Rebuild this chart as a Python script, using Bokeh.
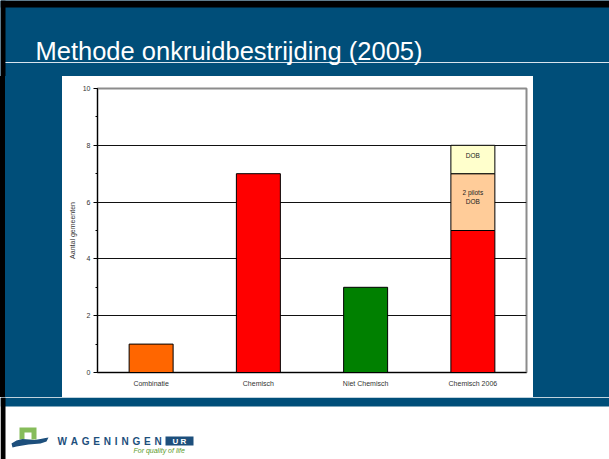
from bokeh.plotting import figure
from bokeh.layouts import column, row
from bokeh.models import Range1d, SingleIntervalTicker, ColumnDataSource, Label, Spacer
from bokeh.core.properties import value
from bokeh.embed import file_html
from bokeh.resources import INLINE

# ---------------- data ----------------
title_text = "Methode onkruidbestrijding (2005)"
categories = ["Combinatie", "Chemisch", "Niet Chemisch", "Chemisch 2006"]
base_values = [1, 7, 3, 5]
base_colors = ["#FF6600", "#FF0000", "#008000", "#FF0000"]
pilot_values = [0, 0, 0, 2]
dob_values = [0, 0, 0, 1]
pilot_label = "2 pilots\nDOB"
dob_label = "DOB"
y_label = "Aantal gemeenten"
y_max = 10

BLUE = "#004e79"
FONT = "Liberation Sans"
W = 609

def blank(w, h, fill):
    f = figure(width=w, height=h, x_range=Range1d(0, w), y_range=Range1d(0, h),
               toolbar_location=None, output_backend="svg", min_border=0)
    f.axis.visible = False
    f.grid.visible = False
    f.outline_line_color = None
    f.background_fill_color = fill
    f.border_fill_color = fill
    return f

# ---------------- header (page y 0..76) ----------------
header = blank(W, 76, BLUE)
header.quad(left=[0], right=[W], bottom=[69], top=[76], fill_color="black", line_color=None)
header.quad(left=[0], right=[5], bottom=[0], top=[76], fill_color="black", line_color=None)
header.segment(x0=[5], y0=[14], x1=[W], y1=[14], line_color="#d8e4ee", line_width=1)
header.add_layout(Label(x=35, y=26, text=title_text, text_color="white",
                        text_font=FONT, text_font_size="25.5px",
                        text_baseline="middle"))

# ---------------- chart (page y 76..397, x 62..533) ----------------
p = figure(width=471, height=321, x_range=categories, y_range=Range1d(0, y_max),
           toolbar_location=None, output_backend="svg",
           min_border_left=35, min_border_right=7, min_border_top=12, min_border_bottom=25)
p.background_fill_color = "white"
p.border_fill_color = "white"
p.outline_line_color = "#8c8c8c"
p.outline_line_width = 2

src = ColumnDataSource(dict(x=categories, top=base_values, color=base_colors))
p.vbar(x="x", top="top", bottom=0, width=0.41, fill_color="color",
       line_color="black", line_width=1, source=src)

px, pb, pt = [], [], []
dx, db, dt = [], [], []
for c, b, pv, dv in zip(categories, base_values, pilot_values, dob_values):
    if pv:
        px.append(c); pb.append(b); pt.append(b + pv)
    if dv:
        dx.append(c); db.append(b + pv); dt.append(b + pv + dv)
p.vbar(x=px, bottom=pb, top=pt, width=0.41, fill_color="#FFCC99", line_color="black")
p.vbar(x=dx, bottom=db, top=dt, width=0.41, fill_color="#FFFFCC", line_color="black")
p.text(x=px, y=[t - 0.55 for t in pt], text=[pilot_label] * len(px),
       text_align="center", text_baseline="top", text_font=value(FONT),
       text_font_size="6.5px", text_color="#222222", text_line_height=1.25)
p.text(x=dx, y=[(b + t) / 2 + 0.15 for b, t in zip(db, dt)], text=[dob_label] * len(dx),
       text_align="center", text_baseline="middle", text_font=value(FONT),
       text_font_size="6.5px", text_color="#222222")

p.xgrid.visible = False
p.ygrid.grid_line_color = "#111111"
p.ygrid.grid_line_width = 1
p.yaxis.ticker = SingleIntervalTicker(interval=2, num_minor_ticks=2)
p.yaxis.axis_line_color = "black"
p.yaxis.major_tick_out = 4
p.yaxis.major_tick_in = 0
p.yaxis.minor_tick_out = 2
p.yaxis.minor_tick_in = 0
p.yaxis.major_label_text_font_size = "7px"
p.yaxis.major_label_text_font = FONT
p.yaxis.major_label_text_color = "#333333"
p.yaxis.major_label_standoff = 3
p.yaxis.axis_label = y_label
p.yaxis.axis_label_text_font_size = "7px"
p.yaxis.axis_label_text_font = FONT
p.yaxis.axis_label_text_font_style = "normal"
p.yaxis.axis_label_text_color = "#333333"
p.yaxis.axis_label_standoff = 4
p.xaxis.axis_line_color = "black"
p.xaxis.major_tick_line_color = None
p.xaxis.minor_tick_line_color = None
p.xaxis.major_label_text_font_size = "7px"
p.xaxis.major_label_text_font = FONT
p.xaxis.major_label_text_color = "#333333"
p.xaxis.major_label_standoff = 1
p.x_range.range_padding = 0

left = Spacer(width=62, height=321,
              styles={"background": "linear-gradient(to right, black 5px, %s 5px)" % BLUE})
right = Spacer(width=76, height=321, styles={"background": BLUE})
middle = row(left, p, right, spacing=0)

# ---------------- footer (page y 397..459) ----------------
footer = blank(W, 62, "white")
footer.quad(left=[0], right=[W], bottom=[53], top=[62], fill_color=BLUE, line_color=None)
footer.quad(left=[0], right=[5], bottom=[0], top=[62], fill_color="black", line_color=None)
def fy(v): return 459 - v
# logo: green arch
footer.quad(left=[19], right=[36], bottom=[fy(439)], top=[fy(427)],
            fill_color="#86bc5a", line_color=None)
footer.quad(left=[24], right=[31], bottom=[fy(439)], top=[fy(432)],
            fill_color="white", line_color=None)
# blue swoosh
wx = [11, 16, 22, 28, 34, 40, 45, 48, 46, 40, 34, 28, 22, 16, 12]
wy = [443, 440, 438.5, 439, 439.5, 438.5, 437.5, 437, 441, 443, 443.5, 444, 445, 446, 447]
footer.patch(x=wx, y=[fy(v) for v in wy], fill_color="#1d4f7c", line_color=None)
# WAGENINGEN letters
word = "WAGENINGEN"
adv = {"W": 9.4, "A": 7.2, "G": 7.8, "E": 6.7, "N": 7.2, "I": 2.8}
xpos = 57.0
for ch in word:
    footer.add_layout(Label(x=xpos, y=fy(440.5), text=ch, text_color="#1d4f7c",
                            text_font=FONT, text_font_size="10px", text_font_style="bold",
                            text_baseline="middle", text_align="left"))
    xpos += adv[ch] + 3.8
footer.quad(left=[165], right=[193], bottom=[fy(445)], top=[fy(436)],
            fill_color="#1d4f7c", line_color=None)
footer.add_layout(Label(x=179, y=fy(440.5), text="U R", text_color="white",
                        text_font=FONT, text_font_size="8px", text_font_style="bold",
                        text_baseline="middle", text_align="center"))
footer.add_layout(Label(x=133, y=fy(449.5), text="For quality of life", text_color="#5a9a2a",
                        text_font=FONT, text_font_size="7px",
                        text_font_style="italic", text_baseline="middle"))

layout = column(header, middle, footer, spacing=0)
open("out.html", "w").write(file_html(layout, INLINE))
